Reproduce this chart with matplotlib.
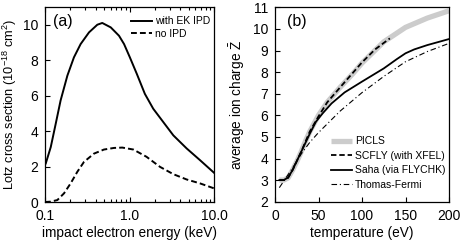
import numpy as np
import matplotlib
matplotlib.use("Agg")
import matplotlib.pyplot as plt
from matplotlib.ticker import LogLocator, NullFormatter, FixedLocator

plt.rcParams['font.family'] = ['Liberation Sans', 'DejaVu Sans']
plt.rcParams['mathtext.fontset'] = 'custom'
plt.rcParams['mathtext.rm'] = 'Liberation Sans'
plt.rcParams['mathtext.it'] = 'Liberation Sans:italic'

# panel (a): Lotz cross section vs impact energy
e_ek = [0.1, 0.102, 0.117, 0.134, 0.153, 0.184, 0.220, 0.264, 0.332, 0.416, 0.476,
        0.60, 0.751, 0.862, 1.01, 1.22, 1.52, 1.91, 2.51, 3.30, 4.75, 6.83, 10.0]
s_ek = [2.1, 2.17, 3.1, 4.42, 5.73, 7.13, 8.16, 8.91, 9.57, 10.0, 10.1,
        9.85, 9.38, 8.91, 8.16, 7.23, 6.1, 5.26, 4.51, 3.76, 3.02, 2.36, 1.65]
e_no = [0.1, 0.117, 0.140, 0.168, 0.201, 0.241, 0.289, 0.380, 0.499, 0.656, 0.822,
        1.11, 1.59, 2.30, 3.30, 4.75, 6.83, 10.0]
s_no = [0.0, 0.02, 0.11, 0.49, 1.05, 1.70, 2.26, 2.73, 2.96, 3.05, 3.07,
        2.96, 2.55, 1.98, 1.57, 1.27, 1.05, 0.77]

# panel (b): average ion charge vs temperature
t_picls = [5, 10, 15, 20, 25, 30, 35, 40, 50, 60, 75, 90, 100, 125, 150, 175, 200]
z_picls = [3.0, 3.0, 3.1, 3.45, 3.85, 4.3, 4.8, 5.25, 6.0, 6.6, 7.3, 7.95, 8.42, 9.4, 10.07, 10.5, 10.84]
t_scfly = [5, 10, 15, 20, 30, 40, 50, 60, 75, 100, 115, 132]
z_scfly = [3.0, 3.0, 3.1, 3.45, 4.3, 5.25, 5.95, 6.6, 7.3, 8.45, 9.05, 9.56]
t_saha = [5, 10, 15, 20, 30, 40, 47, 55, 65, 80, 100, 125, 140, 150, 160, 175, 200]
z_saha = [3.0, 3.0, 3.12, 3.45, 4.3, 5.15, 5.7, 6.1, 6.55, 7.06, 7.56, 8.17, 8.6, 8.87, 9.05, 9.25, 9.53]
t_tf = [5, 10, 20, 30, 40, 50, 60, 75, 100, 125, 150, 175, 200]
z_tf = [2.65, 2.95, 3.55, 4.2, 4.75, 5.2, 5.6, 6.2, 7.05, 7.8, 8.48, 8.95, 9.33]

fig = plt.figure(figsize=(4.63, 2.48), dpi=100)

# --- (a)
ax1 = fig.add_axes([45/463, 46/248, 169/463, 195/248])
ax1.plot(e_ek, s_ek, color='black', lw=1.4, label='with EK IPD')
ax1.plot(e_no, s_no, color='black', lw=1.4, ls=(0, (3, 1.6)), label='no IPD')
ax1.set_xscale('log')
ax1.set_xlim(0.1, 10)
ax1.set_ylim(0, 11)
ax1.xaxis.set_major_locator(FixedLocator([0.1, 1.0, 10.0]))
ax1.set_xticklabels(['0.1', '1.0', '10.0'])
ax1.xaxis.set_minor_locator(LogLocator(base=10, subs=np.arange(2, 10)))
ax1.xaxis.set_minor_formatter(NullFormatter())
ax1.set_yticks([0, 2, 4, 6, 8, 10])
ax1.tick_params(which='both', direction='in', top=True, labelsize=10, width=0.8)
ax1.tick_params(which='major', length=3.5, pad=5)
ax1.tick_params(which='minor', length=2)
ax1.set_xlabel('impact electron energy (keV)', fontsize=9.8, labelpad=2.5)
ax1.set_ylabel(r'Lotz cross section (10$^{-18}$ cm$^2$)', fontsize=9.2, labelpad=2.5)
ax1.text(0.05, 0.965, '(a)', transform=ax1.transAxes, fontsize=11.5, va='top', ha='left')
ax1.legend(loc='upper right', bbox_to_anchor=(1.02, 0.99), frameon=False, fontsize=7.5,
           handlelength=2.0, handletextpad=0.3, labelspacing=0.25, borderaxespad=0.3)

# --- (b)
ax2 = fig.add_axes([275/463, 46.3/248, 174/463, 194.4/248])
ax2.plot(t_picls, z_picls, color='#cccccc', lw=3.8, solid_capstyle='butt', label='PICLS')
ax2.plot(t_scfly, z_scfly, color='black', lw=1.3, ls=(0, (3, 1.6)), label='SCFLY (with XFEL)')
ax2.plot(t_saha, z_saha, color='black', lw=1.3, label='Saha (via FLYCHK)')
ax2.plot(t_tf, z_tf, color='black', lw=0.8, ls=(0, (5, 2.5, 1, 2.5)), label='Thomas-Fermi')
ax2.set_xlim(0, 200)
ax2.set_ylim(2, 11)
ax2.set_xticks([0, 50, 100, 150, 200])
ax2.set_yticks(range(2, 12))
ax2.tick_params(direction='in', labelsize=10, length=3.5, width=0.8, pad=5)
ax2.set_xlabel('temperature (eV)', fontsize=9.8, labelpad=2.5)
ax2.set_ylabel(r'average ion charge $\bar{\mathrm{Z}}$', fontsize=9.8, labelpad=4)
ax2.text(0.07, 0.965, '(b)', transform=ax2.transAxes, fontsize=11.5, va='top', ha='left')
ax2.legend(loc='lower right', bbox_to_anchor=(1.02, 0.025), frameon=False, fontsize=7.5,
           handlelength=2.0, handletextpad=0.3, labelspacing=0.42, borderaxespad=0.3)

for ax in (ax1, ax2):
    for sp in ax.spines.values():
        sp.set_linewidth(0.9)

fig.savefig('out.png', dpi=100)
